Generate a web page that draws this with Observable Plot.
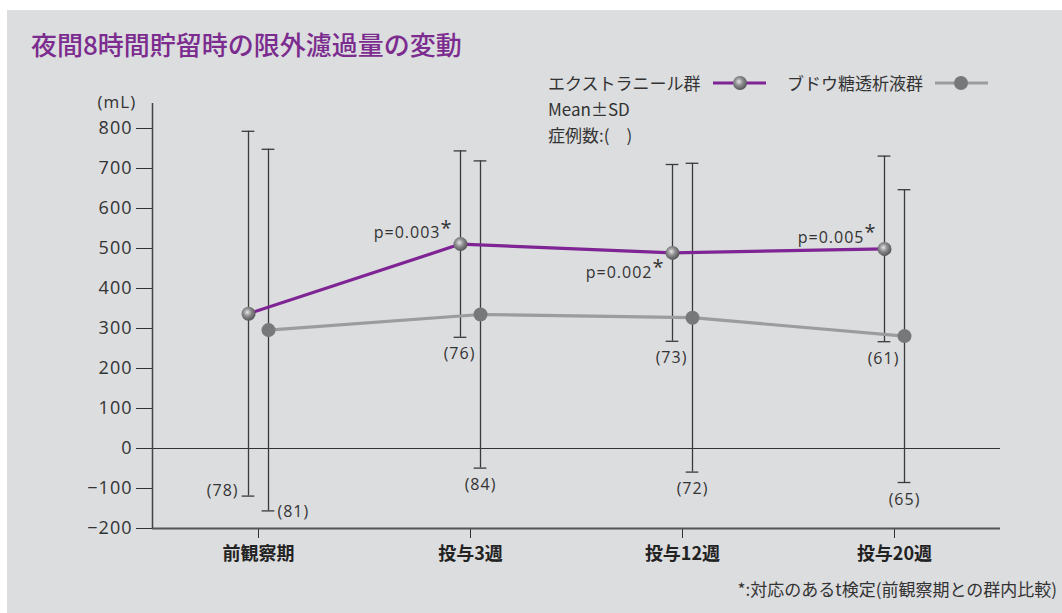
<!DOCTYPE html>
<html>
<head>
<meta charset="utf-8">
<script src="https://cdn.jsdelivr.net/npm/d3@7"></script>
<script src="https://cdn.jsdelivr.net/npm/@observablehq/plot@0.6"></script>
<style>
  html, body { margin: 0; padding: 0; background: #fff; }
  #page { position: relative; width: 1062px; height: 613px; overflow: hidden; background: #fff; font-family: "Noto Sans CJK JP", sans-serif; color: #333; }
  #panel { position: absolute; left: 7px; top: 10px; right: 0; bottom: 0; background: #dcdddf; }
  #title { position: absolute; left: 31px; top: 30px; font-size: 26px; line-height: 28px; font-weight: 500; color: #7b2c8e; white-space: nowrap; }
  .leg { position: absolute; font-size: 17px; line-height: 22px; white-space: nowrap; color: #333; }
  .legsym { position: absolute; }
  #chart { position: absolute; left: 0; top: 70px; }
  #foot { position: absolute; right: 5px; top: 578px; font-size: 17px; line-height: 22px; white-space: nowrap; color: #333; }
  #chart svg text { letter-spacing: 1px; }
  #chart svg g[aria-label="x-axis tick label"] text { letter-spacing: 0; }
</style>
</head>
<body>
<div id="page">
  <div id="panel"></div>
  <div id="title"></div>
  <div class="leg" id="leg1" style="left:548px; top:72px;"></div>
  <svg class="legsym" style="left:712px; top:75px;" width="56" height="16">
    <line x1="1" y1="8" x2="54" y2="8" stroke="#7f2494" stroke-width="3"></line>
    <circle cx="28" cy="8" r="7" fill="url(#sphere)"></circle>
  </svg>
  <div class="leg" id="leg2" style="left:787px; top:72px;"></div>
  <svg class="legsym" style="left:934px; top:75px;" width="56" height="16">
    <line x1="1" y1="8" x2="54" y2="8" stroke="#9c9c9e" stroke-width="3"></line>
    <circle cx="27" cy="8" r="7" fill="#77787a"></circle>
  </svg>
  <div class="leg" id="leg3" style="left:548px; top:98px;"></div>
  <div class="leg" id="leg4" style="left:548px; top:124px;"></div>
  <div id="chart"></div>
  <div id="foot"></div>
</div>
<svg width="0" height="0" style="position:absolute">
  <defs>
    <radialGradient id="sphere" cx="42%" cy="40%" r="62%">
      <stop offset="0%" stop-color="#e4e4e4"></stop>
      <stop offset="45%" stop-color="#8e8e90"></stop>
      <stop offset="100%" stop-color="#525254"></stop>
    </radialGradient>
  </defs>
</svg>
<script>
// ---- data ----
const titleText = "夜間8時間貯留時の限外濾過量の変動";
const categories = ["前観察期", "投与3週", "投与12週", "投与20週"];
const seriesNames = ["エクストラニール群", "ブドウ糖透析液群"];
const extranealMean = [337, 511, 489, 499];
const extranealSD = [456, 233, 221, 232];
const extranealN = [78, 76, 73, 61];
const glucoseMean = [296, 335, 327, 281];
const glucoseSD = [452, 384, 386, 366];
const glucoseN = [81, 84, 72, 65];
const pValues = [null, "p=0.003", "p=0.002", "p=0.005"];
const yTicks = [-200, -100, 0, 100, 200, 300, 400, 500, 600, 700, 800];
const yUnit = "(mL)";
const legendNote1 = "Mean±SD";
const legendNote2 = "症例数:(\u3000)";
const footnote = "*:対応のあるt検定(前観察期との群内比較)";

// ---- text ----
document.getElementById("title").textContent = titleText;
document.getElementById("leg1").textContent = seriesNames[0];
document.getElementById("leg2").textContent = seriesNames[1];
document.getElementById("leg3").textContent = legendNote1;
document.getElementById("leg4").textContent = legendNote2;
document.getElementById("foot").textContent = footnote;

// ---- rows ----
const mk = (means, sds, ns) => categories.map((c, i) => ({i, cat: c, mean: means[i], sd: sds[i], n: ns[i], p: pValues[i]}));
const extRows = mk(extranealMean, extranealSD, extranealN);
const gluRows = mk(glucoseMean, glucoseSD, glucoseN);

const numFont = "Open Sans";
const capHalf = 0.03;
const OFF = 10;
const barColor = "#3a3a3a";

function errorMarks(rows, off) {
  return [
    Plot.ruleX(rows, {x: "i", y1: d => d.mean - d.sd, y2: d => d.mean + d.sd, dx: off, stroke: barColor, strokeWidth: 1.3}),
    Plot.ruleY(rows, {y: d => d.mean + d.sd, x1: d => d.i - capHalf, x2: d => d.i + capHalf, dx: off, stroke: barColor, strokeWidth: 1.3}),
    Plot.ruleY(rows, {y: d => d.mean - d.sd, x1: d => d.i - capHalf, x2: d => d.i + capHalf, dx: off, stroke: barColor, strokeWidth: 1.3})
  ];
}

const textStyle = {fontFamily: numFont, fontSize: 16, fill: "#333"};

const chart = Plot.plot({
  width: 1062,
  height: 500,
  marginLeft: 152,
  marginRight: 62,
  marginTop: 58,
  marginBottom: 42,
  style: {background: "transparent", fontFamily: numFont, color: "#333", overflow: "visible"},
  x: {domain: [-0.5, 3.5], axis: null},
  y: {domain: [-200, 800], axis: null},
  marks: [
    Plot.axisY({ticks: yTicks, tickSize: 16, tickPadding: 4, fontSize: 18, fontFamily: numFont, stroke: "#333", label: null}),
    Plot.axisX({ticks: categories.map((c, i) => i), tickFormat: i => categories[i], tickSize: 10, tickPadding: 9, fontSize: 18, fontWeight: "bold", fontFamily: "Noto Sans CJK JP", fill: "#222", stroke: "#333", label: null}),
    Plot.ruleY([0], {stroke: "#333", strokeWidth: 1.2}),
    Plot.ruleY([-200], {stroke: "#555", strokeWidth: 2.2}),
    Plot.ruleX([-0.5], {stroke: "#444", strokeWidth: 1.5, insetTop: -25}),
    Plot.text([yUnit], {frameAnchor: "top-left", textAnchor: "start", dx: -55, dy: -33, fontSize: 17, fontFamily: numFont, fill: "#333"}),
    ...errorMarks(extRows, -OFF),
    ...errorMarks(gluRows, OFF),
    Plot.line(gluRows, {x: "i", y: "mean", dx: OFF, stroke: "#9c9c9e", strokeWidth: 3.2}),
    Plot.line(extRows, {x: "i", y: "mean", dx: -OFF, stroke: "#7f2494", strokeWidth: 3.2}),
    Plot.dot(gluRows, {x: "i", y: "mean", dx: OFF, r: 7, fill: "#77787a"}),
    Plot.dot(extRows, {x: "i", y: "mean", dx: -OFF, r: 7, fill: "url(#sphere)"}),
    // n labels, extraneal
    Plot.text(extRows.filter(d => d.i === 0), {x: "i", y: d => d.mean - d.sd, text: d => `(${d.n})`, dx: -OFF - 10, dy: -5, textAnchor: "end", ...textStyle}),
    Plot.text(extRows.filter(d => d.i > 0), {x: "i", y: d => d.mean - d.sd, text: d => `(${d.n})`, dx: -OFF - 1, dy: 17, ...textStyle}),
    // n labels, glucose
    Plot.text(gluRows.filter(d => d.i === 0), {x: "i", y: d => d.mean - d.sd, text: d => `(${d.n})`, dx: OFF + 9, dy: 1, textAnchor: "start", ...textStyle}),
    Plot.text(gluRows.filter(d => d.i > 0), {x: "i", y: d => d.mean - d.sd, text: d => `(${d.n})`, dx: OFF, dy: 17, ...textStyle}),
    // p values
    Plot.text(extRows.filter(d => d.p && d.i !== 2), {x: "i", y: "mean", text: "p", dx: -OFF - 20, dy: -11, textAnchor: "end", ...textStyle}),
    Plot.text(extRows.filter(d => d.p && d.i !== 2), {x: "i", y: "mean", text: d => "*", dx: -OFF - 20, dy: -16, textAnchor: "start", fontFamily: numFont, fontSize: 20, fill: "#333"}),
    Plot.text(extRows.filter(d => d.p && d.i === 2), {x: "i", y: "mean", text: "p", dx: -OFF - 20, dy: 20, textAnchor: "end", ...textStyle}),
    Plot.text(extRows.filter(d => d.p && d.i === 2), {x: "i", y: "mean", text: d => "*", dx: -OFF - 20, dy: 15, textAnchor: "start", fontFamily: numFont, fontSize: 20, fill: "#333"})
  ]
});
document.getElementById("chart").appendChild(chart);
</script>
</body>
</html>
